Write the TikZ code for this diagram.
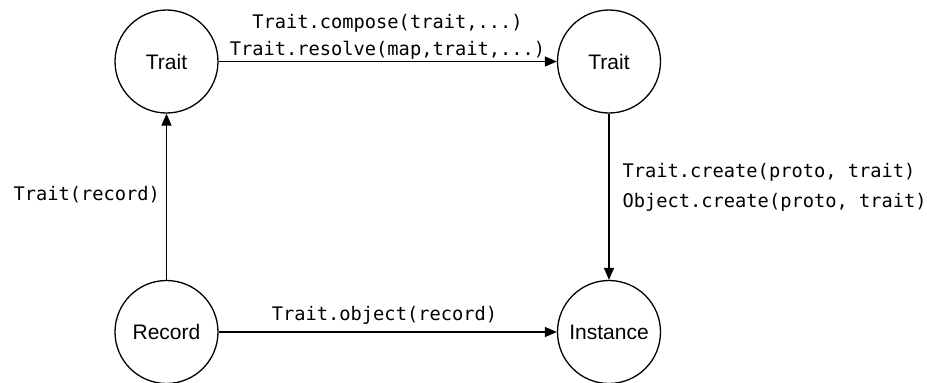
\documentclass[tikz,border=0pt]{standalone}
\usepackage{fontspec}
\setmainfont{Liberation Sans}
\setmonofont{DejaVu Sans Mono}
\usetikzlibrary{arrows.meta, positioning}

\begin{document}
\begin{tikzpicture}[x=0.5pt, y=-0.5pt, >={Triangle[length=6pt, width=5pt]}, line width=0.65pt,
    state/.style={draw, circle, minimum size=51.5pt, inner sep=0pt, font=\fontsize{10.5}{12}\selectfont},
    call/.style={inner sep=0pt, font=\ttfamily\fontsize{9.35}{13.5}\selectfont}]
    \useasboundingbox (0,0) rectangle (927,382);
    % the four states
    \node[state] (trait1) at (166.5,61.5) {Trait};
    \node[state] (trait2) at (609,61.5) {Trait};
    \node[state] (record) at (166.5,332) {Record};
    \node[state] (inst) at (609,332) {Instance};
    % the calls that lead from one to the next
    \node[call, align=center] (compose) at (387.5,36.5) {Trait.compose(trait,...)\\Trait.resolve(map,trait,...)};
    \node[call, anchor=west] (fromrec) at (13,195) {Trait(record)};
    \node[call, align=left, anchor=west, font=\ttfamily\fontsize{9.35}{15}\selectfont] (create) at (622,187) {Trait.create(proto, trait)\\Object.create(proto, trait)};
    \node[call] (object) at (384.5,315) {Trait.object(record)};
    % arrows
    \draw[->] (trait1) -- (trait2);
    \draw[->] (record) -- (trait1);
    \draw[->] (trait2) -- (inst);
    \draw[->] (record) -- (inst);
\end{tikzpicture}
\end{document}
